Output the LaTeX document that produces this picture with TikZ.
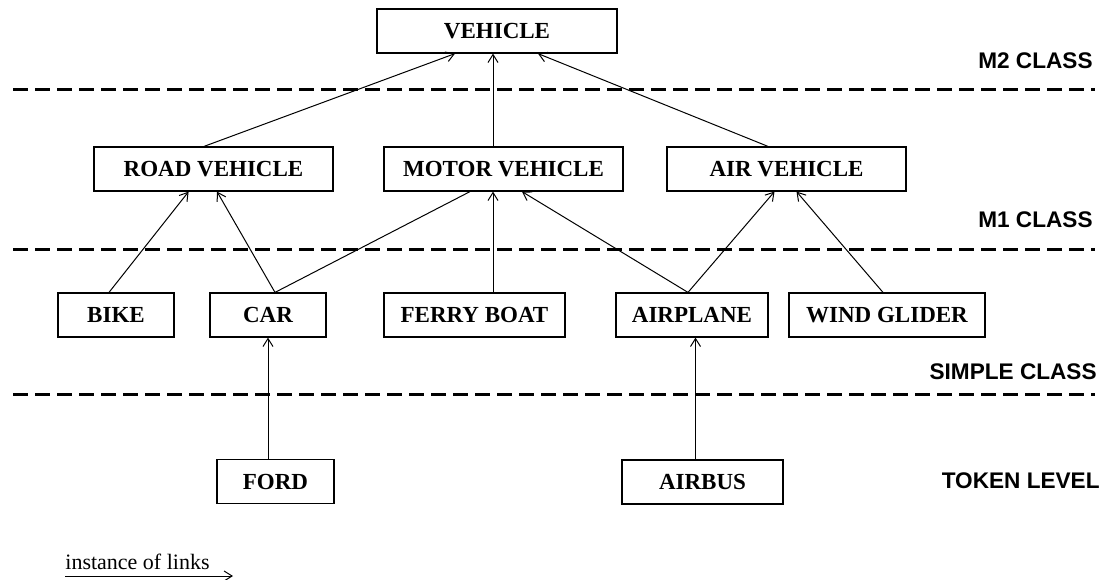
\documentclass[tikz,border=0pt]{standalone}
\usepackage{fontspec}
\setmainfont{Liberation Serif}
\newfontfamily\levelfont{Liberation Sans}
\usetikzlibrary{arrows.meta, positioning}

\tikzset{
  classbox/.style={draw, line width=0.6pt, minimum height=22pt, inner sep=0pt,
    font=\fontsize{11.5}{13}\selectfont\bfseries},
  levelname/.style={anchor=east, inner sep=0pt,
    font=\levelfont\fontsize{11.3}{13}\selectfont\bfseries},
  levelsep/.style={line width=1.5pt, dash pattern=on 7.5pt off 3.5pt},
  link/.style={->, line width=0.5pt},
}

\begin{document}
\begin{tikzpicture}[x=0.5pt, y=-0.5pt, >={Straight Barb[length=4pt,width=5pt]}]
    \useasboundingbox (0,0) rectangle (1104,579);

    % Level separators
    \draw[levelsep] (13,89) -- (1095,89);
    \draw[levelsep] (13,249) -- (1095,249);
    \draw[levelsep] (13,394) -- (1095,394);

    % Level names
    \node[levelname] (m2) at (1093,61) {M2 CLASS};
    \node[levelname] (m1) at (1093,220) {M1 CLASS};
    \node[levelname] (simple) at (1097,372) {SIMPLE CLASS};
    \node[levelname] (token) at (1100,481) {TOKEN LEVEL};

    % M2 class
    \node[classbox, minimum width=120pt] (vehicle) at (497,31) {VEHICLE};

    % M1 classes
    \node[classbox, minimum width=119.5pt] (road) at (213.5,169) {ROAD VEHICLE};
    \node[classbox, minimum width=119.5pt] (motor) at (503.5,169) {MOTOR VEHICLE};
    \node[classbox, minimum width=119.5pt] (air) at (786.5,169) {AIR VEHICLE};

    % Simple classes
    \node[classbox, minimum width=58pt] (bike) at (116,315) {BIKE};
    \node[classbox, minimum width=58pt] (car) at (268,315) {CAR};
    \node[classbox, minimum width=90.5pt] (ferry) at (474.5,315) {FERRY BOAT};
    \node[classbox, minimum width=76pt] (airplane) at (692,315) {AIRPLANE};
    \node[classbox, minimum width=98pt] (glider) at (887,315) {WIND GLIDER};

    % Tokens
    \node[classbox, minimum width=58.5pt] (ford) at (275.5,481.5) {FORD};
    \node[classbox, minimum width=80.5pt] (airbus) at (702.5,482) {AIRBUS};

    % Links to M2
    \draw[link] ([xshift=-4.75pt]road.north) -- ([xshift=-21pt]vehicle.south);
    \draw[link] ([xshift=-5.25pt]motor.north) -- ([xshift=-2pt]vehicle.south);
    \draw[link] ([xshift=-9.25pt]air.north) -- ([xshift=20.5pt]vehicle.south);

    % Links to M1
    \draw[link] ([xshift=-3.5pt]bike.north) -- ([xshift=-12.45pt]road.south);
    \draw[link] ([xshift=3.5pt]car.north) -- ([xshift=1.75pt]road.south);
    \draw[line width=0.5pt] ([xshift=3.5pt]car.north) -- ([xshift=-16.75pt]motor.south);
    \draw[link] ([xshift=9.25pt]ferry.north) -- ([xshift=-5.25pt]motor.south);
    \draw[link] ([xshift=-2pt]airplane.north) -- ([xshift=9.25pt]motor.south);
    \draw[link] ([xshift=-2pt]airplane.north) -- ([xshift=-6pt]air.south);
    \draw[link] ([xshift=-2pt]glider.north) -- ([xshift=5pt]air.south);

    % Links to simple classes
    \draw[link] ([xshift=-3.75pt]ford.north) -- (car.south);
    \draw[link] ([xshift=-3.5pt]airbus.north) -- ([xshift=1.75pt]airplane.south);

    % Legend
    \node[anchor=base west, inner sep=0pt, font=\fontsize{11}{13}\selectfont] (legend) at (65,569) {instance of links};
    \coordinate (linkstart) at (65,576);
    \coordinate (linkend) at (233,576);
    \draw[link] (linkstart) -- (linkend);
\end{tikzpicture}
\end{document}
